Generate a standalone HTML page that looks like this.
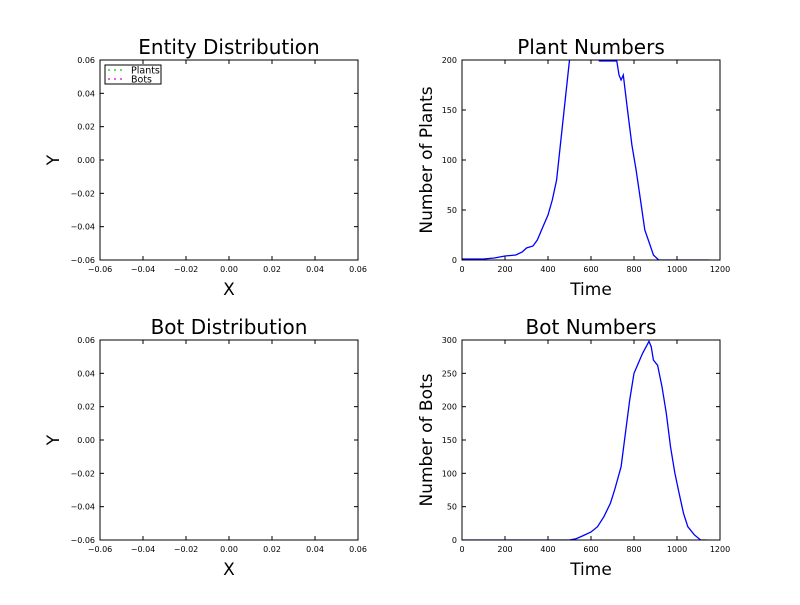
<!DOCTYPE html>
<html><head><meta charset="utf-8"><style>
body{margin:0;background:#fff;}
svg{font-family:"DejaVu Sans","Liberation Sans",sans-serif;}
</style></head><body>
<svg id="c" width="800" height="600" viewBox="0 0 800 600">
<rect width="800" height="600" fill="#fff"/>
</svg>
<script>
const plantTimes=[0,100,150,200,250,280,300,330,350,380,400,420,440,460,480,500,520,560,600,640,680,720,730,740,750,770,790,810,830,850,870,890,915,1000,1150];
const plantValues=[1,1,2,4,5,8,12,14,20,35,45,60,80,120,160,200,230,205,210,199,199,199,185,180,185,150,115,90,60,30,18,5,0,0,0];
const botTimes=[0,500,530,560,600,630,660,690,710,740,760,780,800,820,840,860,870,880,890,910,930,950,970,990,1010,1030,1050,1080,1110,1140];
const botValues=[0,0,2,6,12,20,35,55,75,110,160,210,250,265,280,292,298,290,270,262,230,190,140,100,70,40,20,8,0,0];
const symTicks=[-0.06,-0.04,-0.02,0.00,0.02,0.04,0.06];
const timeTicks=[0,200,400,600,800,1000,1200];
const plantTicks=[0,50,100,150,200];
const botTicks=[0,50,100,150,200,250,300];

const NS="http://www.w3.org/2000/svg";
const svg=document.getElementById('c');
function mk(tag,attrs,parent){const e=document.createElementNS(NS,tag);for(const k in attrs)e.setAttribute(k,attrs[k]);(parent||svg).appendChild(e);return e;}
function txt(s,x,y,size,anchor,parent,rot){const t=mk('text',{x:x,y:y,'font-size':size,'text-anchor':anchor||'middle',fill:'#000'},parent);if(rot)t.setAttribute('transform','rotate(-90 '+x+' '+y+')');t.textContent=s;return t;}

function axes(name,L,T,W,H,xmin,xmax,ymin,ymax,xt,yt,xfmt,yfmt,title,xl,yl,yoff){
  const g=mk('g',{});
  
  
  const sx=v=>L+(v-xmin)/(xmax-xmin)*W, sy=v=>T+H-(v-ymin)/(ymax-ymin)*H;
  xt.forEach(v=>{const x=sx(v);mk('line',{x1:x,y1:T+H,x2:x,y2:T+H-4,stroke:'#000','stroke-width':1},g);mk('line',{x1:x,y1:T,x2:x,y2:T+4,stroke:'#000','stroke-width':1},g);
    const t=txt(xfmt(v),x,T+H+12,8,'middle',g);});
  yt.forEach(v=>{const y=sy(v);mk('line',{x1:L,y1:y,x2:L+4,y2:y,stroke:'#000','stroke-width':1},g);mk('line',{x1:L+W,y1:y,x2:L+W-4,y2:y,stroke:'#000','stroke-width':1},g);
    const t=txt(yfmt(v),L-5,y+3,8,'end',g);});
  const tt=txt(title,L+W/2,T-6,20,'middle',g);
  const xa=txt(xl,L+W/2,T+H+35,17,'middle',g);
  const ya=txt(yl,L-yoff,T+H/2,17,'middle',g,true);
  return {g,sx,sy,L,T,W,H};
}
function frame(a){const r=mk('rect',{x:a.L,y:a.T,width:a.W,height:a.H,fill:'none',stroke:'#000','stroke-width':1},a.g);}
function series(a,xs,ys,id,name){
  const c=mk('clipPath',{id:id},svg);
  mk('rect',{x:a.L,y:a.T,width:a.W,height:a.H},c);
  const d=xs.map((x,i)=>(i?'L':'M')+a.sx(x).toFixed(1)+','+a.sy(ys[i]).toFixed(1)).join('');
  const p=mk('path',{d:d,fill:'none',stroke:'#0000ff','stroke-width':1.3,'clip-path':'url(#'+id+')'},a.g);
  
  
}
const f2=v=>(v<0?'\u2212':'')+Math.abs(v).toFixed(2), f0=v=>String(v);

const a1=axes('entity-distribution-chart',100,60,258,200,-0.06,0.06,-0.06,0.06,symTicks,symTicks,f2,f2,'Entity Distribution','X','Y',41);
frame(a1);
const lg=mk('g',{},a1.g);


mk('rect',{x:105,y:65,width:56,height:19,fill:'#fff',stroke:'#000','stroke-width':1},lg);
[[0,'#00bf00','Plants'],[1,'#bf00bf','Bots']].forEach(([i,c,s])=>{const y=70+i*9;[109,115,121].forEach(x=>mk('circle',{cx:x,cy:y,r:0.9,fill:c},lg));const t=txt(s,131,y+3.5,9.5,'start',lg);});

const a2=axes('plant-numbers-chart',462,60,258,200,0,1200,0,200,timeTicks,plantTicks,f0,f0,'Plant Numbers','Time','Number of Plants',30);
series(a2,plantTimes,plantValues,'cp1','plant-line');frame(a2);

const a3=axes('bot-distribution-chart',100,340,258,200,-0.06,0.06,-0.06,0.06,symTicks,symTicks,f2,f2,'Bot Distribution','X','Y',41);
frame(a3);

const a4=axes('bot-numbers-chart',462,340,258,200,0,1200,0,300,timeTicks,botTicks,f0,f0,'Bot Numbers','Time','Number of Bots',30);
series(a4,botTimes,botValues,'cp2','bot-line');frame(a4);
</script>
</body></html>
